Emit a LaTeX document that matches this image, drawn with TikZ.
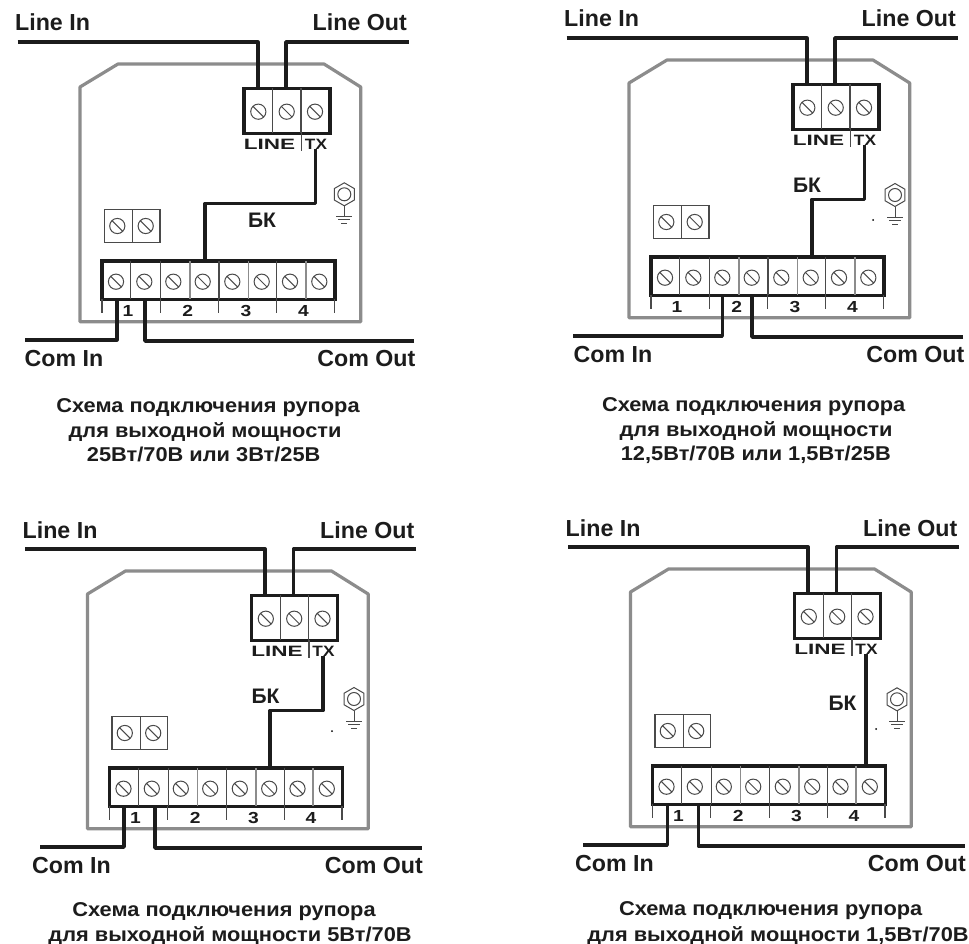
\documentclass[tikz,border=0pt]{standalone}
\usepackage{fontspec}
\setmainfont{Liberation Sans}
\usetikzlibrary{calc,shapes.geometric}
\definecolor{ink}{HTML}{1C1C1C}
\definecolor{housing}{HTML}{8C8C8C}
\definecolor{thin}{HTML}{4A4A4A}
\newcommand{\fs}[1]{\fontsize{#1}{#1}\selectfont\bfseries}
\tikzset{
  x=1pt,y=-1pt,
  wire/.style={draw=ink,line width=3.6pt,line join=round},
  housingline/.style={draw=housing,line width=3.2pt,line join=round},
  termbox/.style={draw=ink,line width=3.4pt,inner sep=0pt,fill=white},
  smallbox/.style={draw=thin,line width=1.3pt,inner sep=0pt,fill=white},
  divider/.style={draw=thin,line width=1.2pt},
  tick/.style={draw=thin,line width=1.3pt},
  screwline/.style={draw=thin,line width=1pt},
  wiretext/.style={font=\fs{23.2},text=ink,inner sep=0pt},
  numtext/.style={font=\fs{16},text=ink,inner sep=0pt,xscale=1.2},
  captext/.style={font=\fs{20},text=ink,inner sep=0pt,anchor=base,xscale=1.09},
}
\newcommand{\screwat}[2]{\draw[screwline] (#1,#2) circle (7.6) (#1-5,#2-5) -- (#1+5,#2+5);}
\newcommand{\groundat}[3]{%
  \node[regular polygon,regular polygon sides=6,shape border rotate=30,draw=thin,line width=1pt,minimum size=23pt,inner sep=0pt] (#1) at (#2,#3) {};
  \draw[screwline] (#2,#3) circle (6.5);
  \draw[screwline] (#1.south) -- ++(0,10);
  \draw[draw=thin,line width=1.1pt] ($(#1.south)+(-8,10)$) -- ++(16,0) ($(#1.south)+(-6,13.5)$) -- ++(12,0) ($(#1.south)+(-3,17)$) -- ++(6,0);
}
% id, dx, dy, wire start x, com-in x, com-out x, BK down x, BK label x, BK label y
\newcommand{\hornpanel}[9]{%
\begin{scope}[shift={(#2,#3)}]
  \draw[housingline] (118,64) -- (324,64) -- (360.7,87) -- (360.7,321.7) -- (80,321.7) -- (80,87) -- cycle;
  % upper terminal block
  \node[termbox,minimum width=86pt,minimum height=45pt] (#1top) at (287,110.8) {};
  \draw[divider] (272.7,88) -- (272.7,133) (301,88) -- (301,133);
  \screwat{258.3}{111.7}\screwat{286.7}{111.7}\screwat{315}{111.7}
  \draw[tick] (301.5,133) -- (301.5,151);
  \node[font=\fs{15},text=ink,inner sep=0pt,xscale=1.5] (#1line) at (269.5,144.5) {LINE};
  \node[font=\fs{15},text=ink,inner sep=0pt,xscale=1.15] (#1tx) at (316,144.5) {TX};
  % small block
  \node[smallbox,minimum width=55.7pt,minimum height=33.4pt] (#1small) at (132.2,226) {};
  \draw[divider] (132.7,209.3) -- (132.7,242.7);
  \screwat{117.3}{226}\screwat{145.7}{226}
  % long block
  \node[termbox,minimum width=233pt,minimum height=38.5pt] (#1long) at (218.5,280.2) {};
  \draw[divider] (130.7,261) -- (130.7,299) (160.7,261) -- (160.7,299) (219,261) -- (219,299) (276.7,261) -- (276.7,299);
  \draw[divider,draw=housing,line width=1.6pt] (190,261) -- (190,299) (248.3,261) -- (248.3,299) (305.7,261) -- (305.7,299);
  \screwat{116}{281.7}\screwat{144.3}{281.7}\screwat{173.3}{281.7}\screwat{202.7}{281.7}
  \screwat{232.3}{281.7}\screwat{261.7}{281.7}\screwat{290}{281.7}\screwat{319.3}{281.7}
  \draw[tick] (102,299) -- ++(0,14) (160.3,299) -- ++(0,14) (218.7,299) -- ++(0,14) (276.7,299) -- ++(0,14) (334.5,299) -- ++(0,14);
  \node[numtext] (#1n1) at (128,311) {1};
  \node[numtext] (#1n2) at (187.7,311) {2};
  \node[numtext] (#1n3) at (246,311) {3};
  \node[numtext] (#1n4) at (303.5,311) {4};
  % labels
  \node[wiretext,anchor=base west] (#1lin) at (15,31) {Line In};
  \node[wiretext,anchor=base east] (#1lout) at (407,31) {Line Out};
  \node[wiretext,anchor=base west] (#1cin) at (24.5,366) {Com In};
  \node[wiretext,anchor=base east] (#1cout) at (415.5,366) {Com Out};
  \node[font=\fs{21},text=ink,inner sep=0pt] (#1bk) at (#8,#9) {БК};
  % wires
  \coordinate (#1a) at (17.5,42);   \coordinate (#1b) at (257.7,88.3);
  \coordinate (#1c) at (408.5,42);  \coordinate (#1d) at (286,88.3);
  \draw[wire] (#1a) -| (#1b);
  \draw[wire] (#1c) -| (#1d);
  \coordinate (#1e) at (#4,340);    \coordinate (#1f) at (#5,299);
  \coordinate (#1g) at (414,341);   \coordinate (#1h) at (#6,299);
  \draw[wire] (#1e) -| (#1f);
  \draw[wire] (#1g) -| (#1h);
  \coordinate (#1i) at (315.3,149); \coordinate (#1j) at (#7,203.5); \coordinate (#1k) at (#7,261);
  \draw[wire] (#1i) |- (#1j) -- (#1k);
\end{scope}}
\begin{document}
\begin{tikzpicture}
\useasboundingbox (0,0) rectangle (969,944);
\fill[white] (0,0) rectangle (969,944);
\hornpanel{A}{0}{0}{25}{116.7}{145}{205}{262}{220}
\hornpanel{B}{549}{-4}{24}{173.3}{203}{262.7}{258}{189}
\hornpanel{C}{7.5}{507}{32.5}{116.5}{147.5}{262.5}{258}{189.7}
\hornpanel{D}{550.5}{505}{32.8}{116.8}{147.8}{315.3}{292}{198}
\groundat{ga}{344.3}{194.3}
\groundat{gb}{895}{195}
\groundat{gc}{354}{699}
\groundat{gd}{897}{699.3}
\fill[thin] (873,220) circle (1);
\fill[thin] (332,731) circle (1);
\fill[thin] (876,729) circle (1);
\node[captext] (a1) at (208,412.7) {Схема подключения рупора};
\node[captext] (a2) at (205,437) {для выходной мощности};
\node[captext] (a3) at (203.7,461) {25Вт/70В или 3Вт/25В};
\node[captext] (b1) at (753.7,411.7) {Схема подключения рупора};
\node[captext] (b2) at (756,436) {для выходной мощности};
\node[captext] (b3) at (755.8,460) {12,5Вт/70В или 1,5Вт/25В};
\node[captext] (c1) at (224,916.7) {Схема подключения рупора};
\node[captext] (c2) at (230,941) {для выходной мощности 5Вт/70В};
\node[captext] (d1) at (770.7,915.7) {Схема подключения рупора};
\node[captext] (d2) at (778,941) {для выходной мощности 1,5Вт/70В};
\end{tikzpicture}
\end{document}
